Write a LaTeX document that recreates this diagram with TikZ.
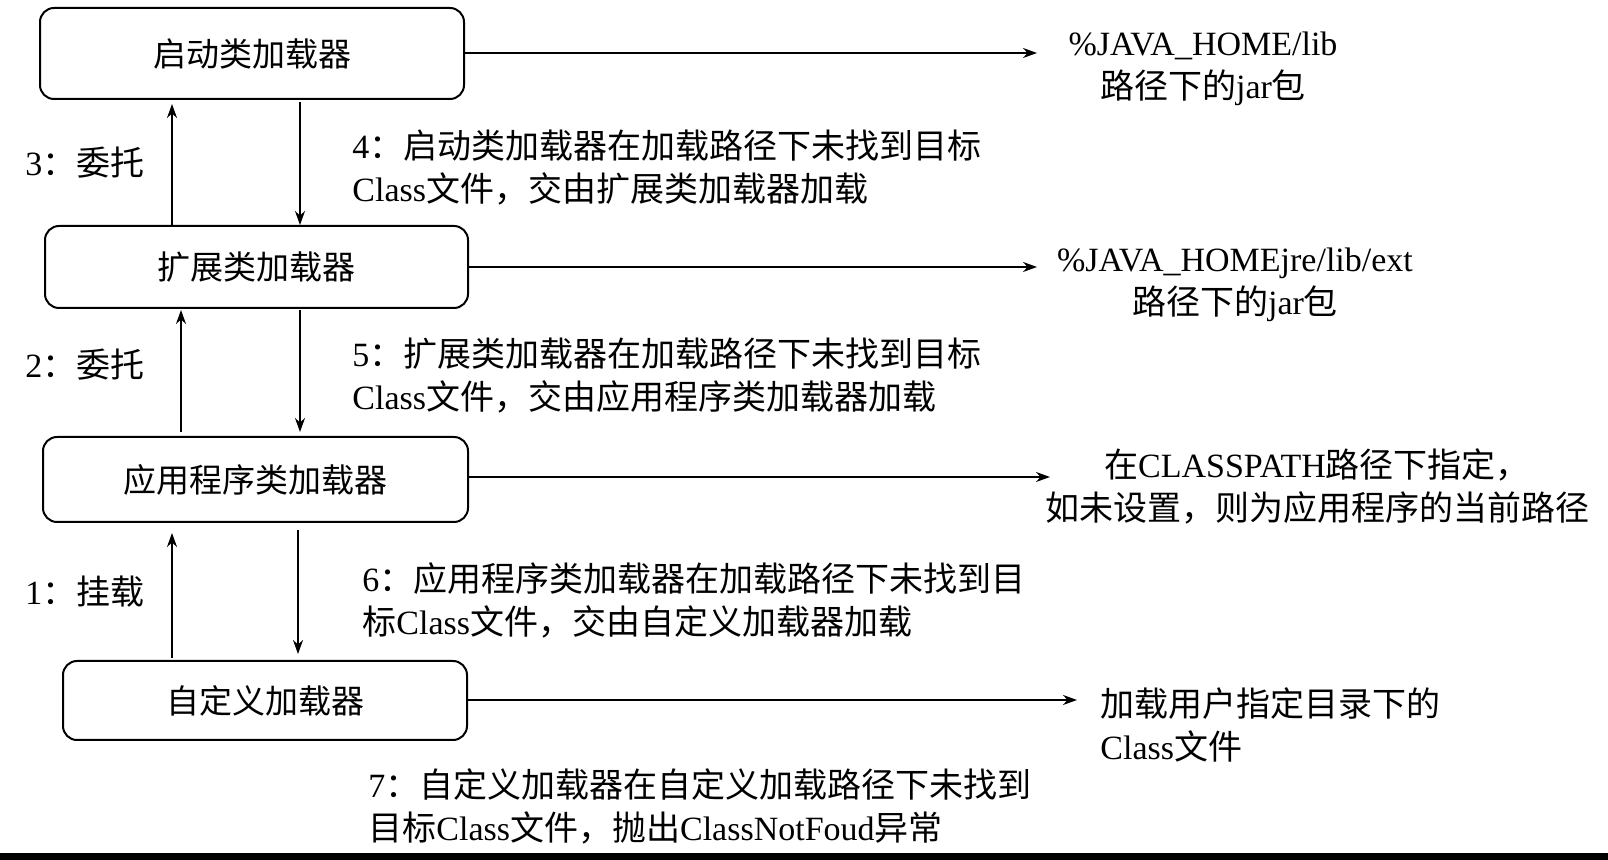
\documentclass[tikz,border=0pt]{standalone}
\usepackage{fontspec}
\setmainfont{Liberation Serif}
\newfontfamily\cjk{Noto Sans CJK SC}
\newcommand{\lat}[1]{{\fontspec{Liberation Serif}#1}}
\usetikzlibrary{arrows.meta}
\begin{document}
\begin{tikzpicture}[x=0.5pt,y=-0.5pt,
 box/.style={draw,rounded corners=7pt,line width=1pt,inner sep=0,font=\fontsize{16.5}{20}\selectfont\cjk},
 ar/.style={-{Stealth[length=7pt,width=5pt]},line width=0.9pt},
 t/.style={font=\fontsize{17}{21.5}\selectfont\cjk,align=left,anchor=west,inner sep=0},
 r/.style={font=\fontsize{17}{21.5}\selectfont\cjk,align=center,anchor=center,inner sep=0}]
\useasboundingbox (0,0) rectangle (1608,860);
\fill[black] (0,853) rectangle (1608,860);
\node[box,minimum width=212pt,minimum height=45.5pt] (b1) at (252,53.5) {启动类加载器};
\node[box,minimum width=211.5pt,minimum height=41pt] (b2) at (256.5,267) {扩展类加载器};
\node[box,minimum width=212.5pt,minimum height=42.5pt] (b3) at (255.5,479.5) {应用程序类加载器};
\node[box,minimum width=202pt,minimum height=39.5pt] (b4) at (265,700.5) {自定义加载器};
\coordinate (e1) at (1037,53);
\coordinate (e2) at (1037,267);
\coordinate (e3) at (1050,477);
\coordinate (e4) at (1077,700);
\node[r] (r1) at (1203,69) {\lat{\%JAVA\_HOME/lib}\\路径下的\lat{jar}包};
\node[r] (r2) at (1235,285) {\lat{\%JAVA\_HOMEjre/lib/ext}\\路径下的\lat{jar}包};
\node[r] (r3) at (1317,486) {在\lat{CLASSPATH}路径下指定，\\如未设置，则为应用程序的当前路径};
\node[t] (r4) at (1100,725) {加载用户指定目录下的\\\lat{Class}文件};
\draw[ar] (b1.east |- e1) -- (e1);
\draw[ar] (b2.east |- e2) -- (e2);
\draw[ar] (b3.east |- e3) -- (e3);
\draw[ar] (b4.east |- e4) -- (e4);
\draw[ar] (b2.north -| 172,0) -- (172,104);
\draw[ar] (300,102) -- (b2.north -| 300,0);
\draw[ar] (181,432) -- (181,310);
\draw[ar] (300,310) -- (300,432);
\draw[ar] (172,658) -- (172,533);
\draw[ar] (298,530) -- (298,654);
\node[t] (l3) at (25,163) {\lat{3}：委托};
\node[t] (l2) at (25,365) {\lat{2}：委托};
\node[t] (l1) at (25,592) {\lat{1}：挂载};
\node[t] (m4) at (352,168) {\lat{4}：启动类加载器在加载路径下未找到目标\\\lat{Class}文件，交由扩展类加载器加载};
\node[t] (m5) at (352,376) {\lat{5}：扩展类加载器在加载路径下未找到目标\\\lat{Class}文件，交由应用程序类加载器加载};
\node[t] (m6) at (362,600) {\lat{6}：应用程序类加载器在加载路径下未找到目\\标\lat{Class}文件，交由自定义加载器加载};
\node[t] (m7) at (368,806) {\lat{7}：自定义加载器在自定义加载路径下未找到\\目标\lat{Class}文件，抛出\lat{ClassNotFoud}异常};
\end{tikzpicture}
\end{document}
